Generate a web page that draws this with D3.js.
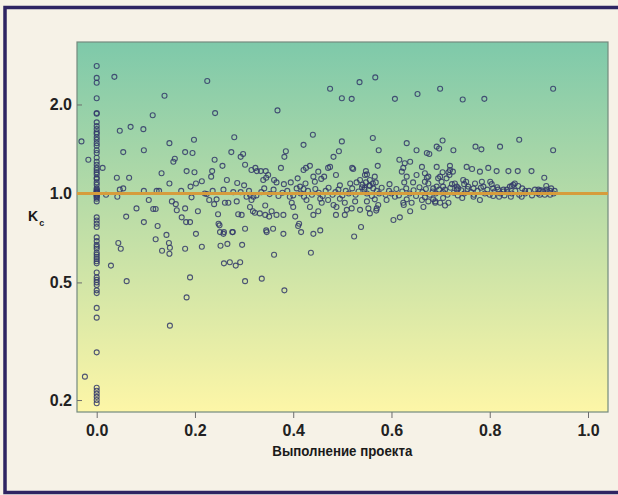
<!DOCTYPE html>
<html>
<head>
<meta charset="utf-8">
<script src="https://cdn.jsdelivr.net/npm/d3@7"></script>
<style>
  html, body { margin: 0; padding: 0; background: #f6f2e7; overflow: hidden; }
  svg { display: block; }
</style>
</head>
<body>
<svg id="chart" width="618" height="495"></svg>
<script>
// Project cost index K_c against project completion share.

// Projects still at the start (completion = 0)
const startKc = [2.70, 2.46, 2.37, 2.10, 1.87, 1.86, 1.74, 1.69, 1.65, 1.61, 1.59, 1.55,
  1.52, 1.48, 1.45, 1.40, 1.37, 1.32, 1.28, 1.25, 1.22, 1.20, 1.18, 1.16, 1.13, 1.12, 1.09,
  1.07, 1.04, 1.03, 1.02, 1.015, 1.01, 1.005, 1.0, 0.99, 0.985, 0.98, 0.97, 0.96, 0.94,
  0.83, 0.81, 0.79, 0.77, 0.71, 0.69, 0.67, 0.66, 0.65, 0.63, 0.62, 0.61, 0.60, 0.59, 0.58,
  0.54, 0.52, 0.51, 0.50, 0.49, 0.47, 0.46, 0.41, 0.38, 0.29, 0.22, 0.215, 0.21, 0.205,
  0.20, 0.195];

// [completion, K_c] — early stage
const earlyPoints = [[-0.031,1.50],[-0.017,1.30],[-0.024,0.24],[0.012,1.22],[0.019,0.99],
  [0.036,2.48],[0.041,1.13],[0.047,1.63],[0.047,1.03],[0.054,1.04],[0.054,1.38],[0.042,0.975],
  [0.060,0.835],[0.066,1.13],[0.069,1.68],[0.081,0.89],[0.095,1.65],[0.096,1.40],[0.096,1.02],
  [0.096,0.80],[0.106,0.95],[0.114,1.84],[0.115,0.886],[0.120,0.886],[0.122,1.02],[0.127,1.02],
  [0.132,1.17],[0.138,2.14],[0.142,0.724],[0.148,1.48],[0.148,1.08],[0.153,0.94],[0.156,1.28],
  [0.159,1.31],[0.161,0.92],[0.163,0.877],[0.172,1.02],[0.173,0.83],[0.180,1.38],[0.180,0.89],
  [0.183,1.19],[0.182,0.80],[0.190,0.80],[0.191,1.055],[0.193,0.97],[0.195,1.37],[0.198,1.52],
  [0.199,1.18],[0.202,1.08],[0.202,0.73],[0.206,0.87],[0.214,1.10],[0.220,1.00],[0.224,0.995],
  [0.225,2.40],[0.229,0.95],[0.233,1.14],[0.235,1.19],[0.236,1.02],[0.240,1.30],[0.241,1.87],
  [0.239,0.92],[0.244,0.955],[0.247,0.85],[0.248,0.79],[0.250,0.78],[0.251,0.74],[0.256,1.24],
  [0.258,1.03],[0.259,0.74],[0.261,0.93],[0.265,1.11],[0.268,0.93],[0.274,1.38],[0.276,0.74],
  [0.278,1.01],[0.280,1.55],[0.285,0.94],[0.286,1.085],[0.288,0.85],[0.293,1.33],[0.293,1.01],
  [0.295,0.846],[0.298,1.36],[0.300,1.065],[0.302,1.25],[0.302,0.76],[0.305,0.975],[0.312,0.99],
  [0.315,0.95],[0.319,0.975],[0.312,0.90],[0.315,1.20],[0.323,1.22],[0.326,1.19],[0.334,1.19],
  [0.318,0.87],[0.322,0.86],[0.339,1.11],[0.345,1.13],[0.349,1.155],[0.341,1.04],[0.345,0.75],
  [0.346,0.74],[0.343,0.846],[0.351,0.835]];

// [completion, K_c] — low outliers
const lowPoints = [[0.029,0.57],[0.044,0.68],[0.049,0.65],[0.061,0.505],[0.120,0.70],
  [0.124,0.776],[0.133,0.64],[0.147,0.68],[0.149,0.655],[0.148,0.625],[0.149,0.357],[0.180,0.65],
  [0.183,0.445],[0.190,0.52],[0.214,0.66],[0.252,0.665],[0.266,0.675],[0.259,0.58],[0.271,0.585],
  [0.283,0.57],[0.292,0.585],[0.296,0.67],[0.302,0.505],[0.336,0.515],[0.277,0.74],[0.258,0.73],
  [0.361,0.62],[0.382,0.47],[0.436,0.63]];

// [completion, K_c] — middle stage, above plan
const midPoints = [[0.368,1.91],[0.475,2.26],[0.499,2.10],[0.519,2.09],[0.535,2.38],[0.567,2.47],
  [0.607,2.09],[0.653,2.17],[0.699,2.26],[0.745,2.08],[0.789,2.09],[0.929,2.26],
  [0.440,1.58],[0.421,1.46],[0.499,1.50],[0.562,1.54],[0.385,1.39],[0.382,1.33],[0.493,1.39],
  [0.482,1.33],[0.574,1.40],[0.631,1.48],[0.704,1.51],[0.651,1.40],[0.677,1.36],[0.692,1.44],
  [0.697,1.42],[0.726,1.40],[0.375,1.22],[0.344,1.19],[0.361,1.11],[0.366,1.09],[0.381,1.075],
  [0.395,1.09],[0.409,1.125],[0.421,1.20],[0.426,1.22],[0.434,1.24],[0.414,1.055],[0.425,1.08],
  [0.421,1.035],[0.441,1.14],[0.444,1.095],[0.451,1.185],[0.457,1.12],[0.463,1.14],[0.471,1.22],
  [0.475,1.23],[0.487,1.155],[0.495,1.065],[0.520,1.22],[0.516,1.08],[0.529,1.09],[0.536,1.11],
  [0.548,1.19],[0.550,1.16],[0.556,1.11],[0.572,1.24],[0.566,1.14],[0.568,1.09],[0.596,1.075],
  [0.616,1.30],[0.624,1.22],[0.638,1.28],[0.621,1.185],[0.631,1.14],[0.626,1.09],[0.644,1.09],
  [0.651,1.155],[0.662,1.23],[0.668,1.17],[0.672,1.13],[0.675,1.08],[0.685,1.04],[0.692,1.23],
  [0.704,1.18],[0.719,1.24],[0.712,1.125],[0.723,1.075],[0.733,1.03],[0.522,1.21],[0.546,1.155],
  [0.627,1.265],[0.672,1.37],[0.541,1.07],[0.548,1.09],[0.556,1.06],[0.562,1.08],[0.545,1.045]];

// [completion, K_c] — middle stage, below plan
const midLowPoints = [[0.343,0.91],[0.356,0.87],[0.366,0.846],[0.380,0.846],[0.332,0.856],
  [0.359,0.76],[0.380,0.73],[0.393,0.975],[0.397,0.93],[0.400,0.90],[0.404,0.835],[0.412,0.79],
  [0.416,0.74],[0.427,0.95],[0.434,0.90],[0.441,0.846],[0.441,0.73],[0.451,0.87],[0.455,0.96],
  [0.458,0.93],[0.455,0.75],[0.471,0.95],[0.482,0.914],[0.488,0.90],[0.487,0.846],[0.495,0.96],
  [0.505,0.93],[0.509,0.88],[0.519,0.89],[0.524,0.715],[0.526,0.94],[0.536,0.88],[0.538,0.77],
  [0.550,0.94],[0.553,0.89],[0.556,0.856],[0.570,0.89],[0.566,0.955],[0.573,0.914],[0.590,0.95],
  [0.604,0.813],[0.617,0.83],[0.607,0.975],[0.624,0.93],[0.631,0.955],[0.641,0.93],[0.638,0.87],
  [0.662,0.95],[0.665,0.90],[0.675,0.94],[0.685,0.955],[0.699,0.93],[0.709,0.91],[0.716,0.93],
  [0.410,0.776],[0.505,0.846],[0.569,0.875],[0.625,0.914],[0.689,0.93]];

// [completion, K_c] — late stage
const latePoints = [[0.860,1.52],[0.929,1.40],[0.771,1.44],[0.783,1.41],[0.821,1.44],[0.719,1.20],
  [0.716,1.18],[0.718,1.155],[0.753,1.23],[0.764,1.21],[0.780,1.185],[0.797,1.22],[0.814,1.19],
  [0.838,1.19],[0.857,1.19],[0.885,1.19],[0.911,1.13],[0.915,1.06],[0.699,1.14],[0.702,1.095],
  [0.705,1.055],[0.709,1.03],[0.729,1.08],[0.733,1.055],[0.736,1.04],[0.746,1.11],[0.752,1.095],
  [0.748,1.075],[0.756,1.055],[0.767,1.04],[0.770,1.08],[0.784,1.095],[0.787,1.055],[0.801,1.095],
  [0.804,1.075],[0.807,1.04],[0.817,1.03],[0.828,1.03],[0.835,1.03],[0.841,1.055],[0.845,1.06],
  [0.848,1.07],[0.851,1.08],[0.858,1.06],[0.828,1.015],[0.872,1.02],[0.899,1.03],[0.902,1.02],
  [0.916,1.03],[0.923,1.02],[0.909,1.015],[0.705,0.965],[0.744,0.965],[0.767,0.975],[0.780,0.95],
  [0.807,0.98],[0.819,0.975],[0.843,0.975],[0.865,0.975],[0.902,0.99],[0.923,0.99],[0.725,1.185],
  [0.695,1.125],[0.692,1.055],[0.675,1.14],[0.668,1.095],[0.689,0.94],[0.668,0.97]];

// [completion, K_c] — projects running close to plan
const nearPlanPoints = [[0.31,1.02],[0.325,0.985],[0.335,1.01],[0.352,0.995],[0.36,1.03],
  [0.37,0.98],[0.378,1.005],[0.388,1.02],[0.40,0.985],[0.407,1.04],[0.415,1.0],[0.422,0.975],
  [0.43,1.02],[0.438,0.99],[0.445,1.035],[0.452,1.005],[0.46,0.98],[0.466,1.02],[0.472,1.045],
  [0.48,0.99],[0.486,1.01],[0.492,1.03],[0.50,0.985],[0.507,1.02],[0.513,1.0],[0.52,1.04],
  [0.527,0.99],[0.533,1.015],[0.54,1.05],[0.545,1.03],[0.55,1.0],[0.555,1.065],[0.56,0.98],
  [0.563,1.04],[0.57,1.02],[0.575,1.0],[0.58,1.045],[0.588,0.99],[0.595,1.02],[0.60,1.0],
  [0.61,1.035],[0.615,0.985],[0.622,1.015],[0.63,1.04],[0.637,1.0],[0.645,1.025],[0.65,0.98],
  [0.657,1.05],[0.663,1.01],[0.67,1.035],[0.678,0.99],[0.684,1.015],[0.69,1.0],[0.697,1.03],
  [0.705,1.01],[0.714,0.99],[0.72,1.045],[0.727,1.005],[0.735,0.985],[0.742,1.025],[0.748,1.0],
  [0.755,1.035],[0.762,1.01],[0.768,0.99],[0.775,1.02],[0.782,1.045],[0.79,1.0],[0.795,1.03],
  [0.80,0.99],[0.81,1.015],[0.815,1.05],[0.822,1.0],[0.83,0.985],[0.836,1.01],[0.845,1.0],
  [0.852,1.02],[0.86,0.99],[0.866,1.04],[0.872,1.0],[0.88,1.02],[0.886,0.985],[0.892,1.03],
  [0.898,1.0],[0.905,1.025],[0.912,0.99],[0.918,1.01],[0.925,1.04],[0.93,1.0],[0.932,1.02]];

const xTicks = [0, 0.2, 0.4, 0.6, 0.8, 1.0];
const yTicks = [0.2, 0.5, 1.0, 2.0];
const planLevel = 1.0;
const xTitle = "Выполнение проекта";

const svg = d3.select("#chart");
const box = { left: 77, top: 42, right: 608, bottom: 412 };

const x = d3.scaleLinear().domain([-0.0401, 1.0407]).range([box.left, box.right]);
const y = d3.scaleLog().domain([0.1822, 3.254]).range([box.bottom, box.top]);

// outer frame (open on the right, running past the page edge)
svg.append("rect")
  .attr("x", 5).attr("y", 7.5).attr("width", 680).attr("height", 485)
  .attr("fill", "#f6f2e7").attr("stroke", "#2e2462").attr("stroke-width", 3.5);

// plot background gradient
const defs = svg.append("defs");
const grad = defs.append("linearGradient").attr("id", "bg")
  .attr("x1", 0).attr("y1", 0).attr("x2", 0).attr("y2", 1);
grad.append("stop").attr("offset", "0%").attr("stop-color", "#7ec9aa");
grad.append("stop").attr("offset", "45%").attr("stop-color", "#b9dca7");
grad.append("stop").attr("offset", "100%").attr("stop-color", "#fdf6a7");

svg.append("rect")
  .attr("x", box.left).attr("y", box.top)
  .attr("width", box.right - box.left).attr("height", box.bottom - box.top)
  .attr("fill", "url(#bg)").attr("stroke", "#748a7e").attr("stroke-width", 1.2);

// axes
const font = "'Liberation Sans', Arial, sans-serif";

const gx = svg.append("g").attr("transform", `translate(0,${box.bottom})`)
  .call(d3.axisBottom(x).tickValues(xTicks).tickFormat(d3.format(".1f")).tickSize(6).tickPadding(7));
const gy = svg.append("g").attr("transform", `translate(${box.left},0)`)
  .call(d3.axisLeft(y).tickValues(yTicks).tickFormat(d3.format(".1f")).tickSize(-5).tickPadding(5));

[gx, gy].forEach(g => {
  g.select(".domain").remove();
  g.selectAll(".tick line").attr("stroke", "#6d6d6d").attr("stroke-width", 1);
  g.selectAll(".tick text")
    .attr("fill", "#222")
    .style("font-family", font)
    .style("font-weight", "bold")
    .style("font-size", "16px");
});

// points
const allPoints = [
  ...startKc.map(v => [0, v]),
  ...earlyPoints, ...lowPoints, ...midPoints, ...midLowPoints, ...latePoints, ...nearPlanPoints
];

svg.append("g").selectAll("circle").data(allPoints).join("circle")
  .attr("cx", d => x(d[0]))
  .attr("cy", d => y(d[1]))
  .attr("r", 2.5)
  .attr("fill", "none")
  .attr("stroke", "#33386a")
  .attr("stroke-opacity", 0.85)
  .attr("stroke-width", 1.1);

// plan level line
svg.append("line")
  .attr("x1", box.left).attr("x2", box.right)
  .attr("y1", y(planLevel)).attr("y2", y(planLevel))
  .attr("stroke", "#d69c3c").attr("stroke-width", 3);

// axis titles
svg.append("text")
  .attr("x", x(0.5)).attr("y", 456)
  .attr("text-anchor", "middle")
  .attr("textLength", 140).attr("lengthAdjust", "spacingAndGlyphs")
  .style("font-family", font)
  .style("font-weight", "bold").style("font-size", "14.5px")
  .attr("fill", "#1a1a1a")
  .text(xTitle);

const yTitle = svg.append("text")
  .attr("x", 28).attr("y", 221)
  .style("font-family", font)
  .style("font-weight", "bold").style("font-size", "14px")
  .attr("fill", "#1a1a1a");
yTitle.append("tspan").text("K");
yTitle.append("tspan").attr("dy", 5).attr("dx", 1).style("font-size", "9px").text("c");
</script>
</body>
</html>
